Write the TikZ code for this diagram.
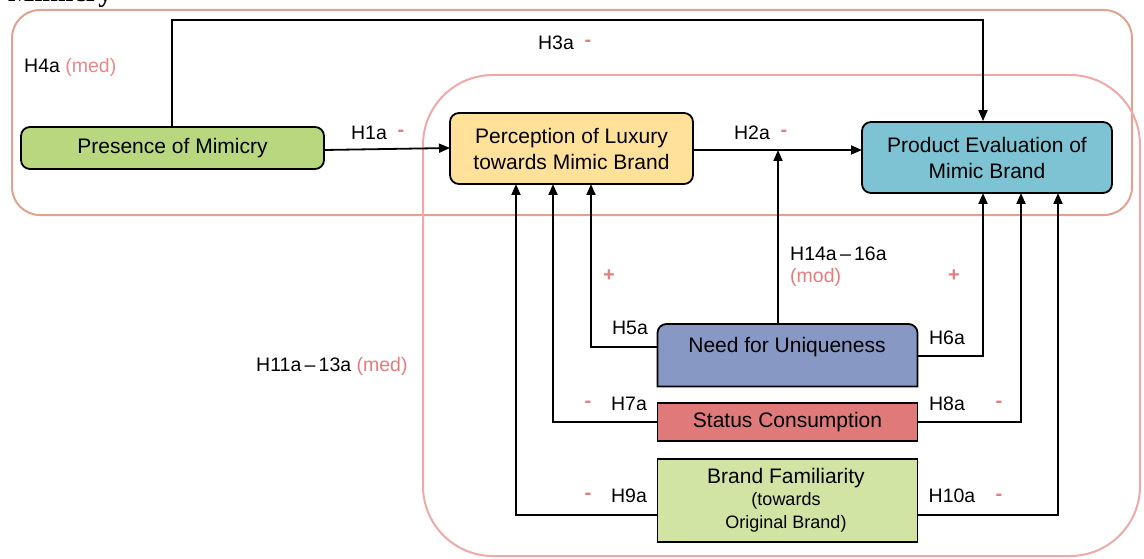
\documentclass[tikz,border=0pt]{standalone}
\usepackage{fontspec}
\setmainfont{Liberation Sans}
\newfontfamily\headserif{Liberation Serif}
\usetikzlibrary{arrows.meta}
\definecolor{cGreen}{HTML}{B9D77F}
\definecolor{cYellow}{HTML}{FFE199}
\definecolor{cTeal}{HTML}{7DC3D3}
\definecolor{cBlue}{HTML}{8898C4}
\definecolor{cRed}{HTML}{E07A7A}
\definecolor{cLight}{HTML}{D2E4A4}
\definecolor{cSign}{HTML}{E87B7B}
\definecolor{cFrameA}{HTML}{E2A290}
\definecolor{cFrameB}{HTML}{F0A8A8}
\begin{document}
\begin{tikzpicture}[x=1pt,y=-1pt,
  box/.style={draw=black, line width=1.8pt, inner sep=0pt, align=center,
    font=\fontsize{21}{26}\selectfont},
  rbox/.style={box, rounded corners=9pt},
  arr/.style={line width=1.8pt, -{Triangle[length=11pt,width=9pt]}},
  lab/.style={font=\fontsize{19.5}{22}\selectfont, inner sep=0pt},
  sgn/.style={lab, text=cSign, font=\bfseries\fontsize{20}{22}\selectfont},
  frame/.style={line width=2pt}]
\useasboundingbox (0,0) rectangle (1144,559);

% title fragment
\node[anchor=base west, inner sep=0pt, font=\headserif\bfseries\fontsize{28}{30}\selectfont] (title) at (8,2) {Mimicry};

% frames
\draw[frame, cFrameA, rounded corners=28pt] (12,10) rectangle (1132,215);
\draw[frame, cFrameB, rounded corners=70pt] (423,75) rectangle (1140,556);

% boxes
\node[rbox, fill=cGreen, minimum width=303, minimum height=42] (pres) at (172.5,148) {Presence of Mimicry};
\node[rbox, fill=cYellow, minimum width=243, minimum height=71] (perc) at (571.5,148.5) {Perception of Luxury\\towards Mimic Brand};
\node[rbox, fill=cTeal, minimum width=250, minimum height=71] (prod) at (987,157.5) {Product Evaluation of\\Mimic Brand};

\node[minimum width=260, minimum height=63, inner sep=0pt] (need) at (787.5,355) {};
\draw[fill=cBlue, line width=1.8pt] (657.5,386.5) -- (657.5,333) arc(180:270:9) -- (908.5,324) arc(270:360:9) -- (917.5,386.5) -- cycle;
\node[box, draw=none] (needtext) at (787,347) {Need for Uniqueness};

\node[box, fill=cRed, minimum width=260, minimum height=38] (stat) at (787.5,422) {Status Consumption};
\node[box, fill=cLight, minimum width=260, minimum height=83] (fam) at (787.5,500.5) {};
\node[lab, font=\fontsize{21}{24}\selectfont] (famA) at (786,478) {Brand Familiarity};
\node[lab, font=\fontsize{18}{22}\selectfont] (famB) at (786,501) {(towards};
\node[lab, font=\fontsize{18}{22}\selectfont] (famC) at (786,524) {Original Brand)};

% coordinates for connectors
\coordinate (top1) at (172,20);
\coordinate (top2) at (983,20);
\coordinate (modb) at (778,324);
\coordinate (modt) at (778,150);
\coordinate (p5) at (591,184);
\coordinate (p7) at (553,184);
\coordinate (p9) at (516,184);
\coordinate (q6) at (983,193);
\coordinate (q8) at (1021,193);
\coordinate (q10) at (1058,193);
\coordinate (h1s) at (324,150);
\coordinate (h1e) at (450,148);
\coordinate (h2s) at (693,150);
\coordinate (h2e) at (862,150);

% connectors
\draw[arr] (pres.north -| top1) -- (top1) -- (top2) -- (prod.north -| top2);
\draw[arr] (h1s) -- (h1e);
\draw[arr] (h2s) -- (h2e);
\draw[arr] (modb) -- (modt);
\draw[arr] (657.5,347) -| (p5);
\draw[arr] (stat.west) -| (p7);
\draw[arr] (fam.west |- 0,515) -| (p9);
\draw[arr] (917.5,356) -| (q6);
\draw[arr] (stat.east) -| (q8);
\draw[arr] (fam.east |- 0,515) -| (q10);

% labels
\node[lab, anchor=west] (l4) at (24,67) {H4a \textcolor{cSign!90}{(med)}};
\node[lab] (l3) at (556,43) {H3a};
\node[sgn] (s3) at (588,43) {-};
\node[lab] (l1) at (369,133) {H1a};
\node[sgn] (s1) at (401,133) {-};
\node[lab] (l2) at (752,133) {H2a};
\node[sgn] (s2) at (784,133) {-};
\node[lab, anchor=west] (l14) at (790,254) {H14a\,--\,16a};
\node[lab, text=cSign, anchor=west] (l14m) at (790,277) {(mod)};
\node[sgn] (s5) at (609,276) {+};
\node[sgn] (s6) at (954,276) {+};
\node[lab] (l5) at (630,328) {H5a};
\node[lab] (l6) at (947,338) {H6a};
\node[sgn] (s7) at (588,404) {-};
\node[lab] (l7) at (629,404) {H7a};
\node[lab] (l8) at (947,404) {H8a};
\node[sgn] (s8) at (999,404) {-};
\node[sgn] (s9) at (588,496) {-};
\node[lab] (l9) at (629,496) {H9a};
\node[lab] (l10) at (952,496) {H10a};
\node[sgn] (s10) at (999,497) {-};
\node[lab, anchor=west] (l11) at (256,366) {H11a\,--\,13a \textcolor{cSign}{(med)}};
\end{tikzpicture}
\end{document}
